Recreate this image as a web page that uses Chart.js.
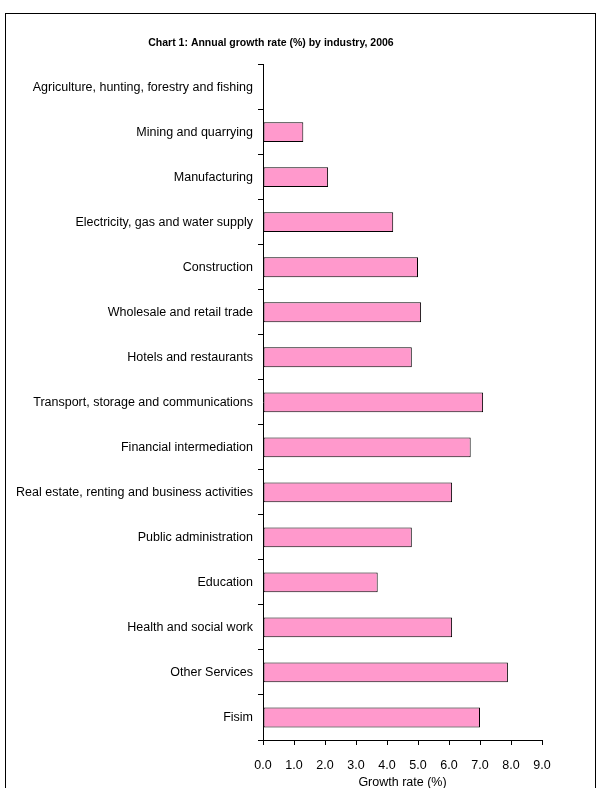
<!DOCTYPE html>
<html>
<head>
<meta charset="utf-8">
<script src="https://cdn.jsdelivr.net/npm/chart.js@4"></script>
<style>
  body { margin: 0; background: #fff; }
  #wrap { position: relative; width: 597px; height: 788px; }
  #frame { position: absolute; left: 5px; top: 13px; width: 589px; height: 800px; border: 1px solid #000; }
  canvas { position: absolute; left: 0; top: 0; }
</style>
</head>
<body>
<div id="wrap">
  <div id="frame"></div>
  <canvas id="grafico" width="597" height="788"></canvas>
</div>
<script>
// industrias e taxas de crescimento (%)
const industrias = [
  'Agriculture, hunting, forestry and fishing',
  'Mining and quarrying',
  'Manufacturing',
  'Electricity, gas and water supply',
  'Construction',
  'Wholesale and retail trade',
  'Hotels and restaurants',
  'Transport, storage and communications',
  'Financial intermediation',
  'Real estate, renting and business activities',
  'Public administration',
  'Education',
  'Health and social work',
  'Other Services',
  'Fisim'
];
const taxas = [0, 1.3, 2.1, 4.2, 5.0, 5.1, 4.8, 7.1, 6.7, 6.1, 4.8, 3.7, 6.1, 7.9, 7.0];
const escalaMin = 0;
const escalaMax = 9;

const fonte = "'Liberation Sans', Arial, sans-serif";

const ctx = document.getElementById('grafico').getContext('2d');
new Chart(ctx, {
  type: 'bar',
  data: {
    labels: industrias,
    datasets: [{
      data: taxas,
      backgroundColor: '#ff99cc',
      borderColor: '#000',
      borderWidth: 1,
      borderSkipped: false,
      barPercentage: 0.44,
      categoryPercentage: 1
    }]
  },
  options: {
    indexAxis: 'y',
    responsive: false,
    animation: false,
    layout: { padding: { left: 0, right: 55, top: 0, bottom: 0 } },
    plugins: {
      legend: { display: false },
      tooltip: { enabled: false },
      title: {
        display: true,
        text: 'Chart 1: Annual growth rate (%) by industry, 2006',
        color: '#000',
        font: { family: fonte, size: 10.5, weight: 'bold' },
        padding: { top: 37, bottom: 15 }
      }
    },
    scales: {
      x: {
        min: escalaMin,
        max: escalaMax,
        ticks: {
          stepSize: 1,
          color: '#000',
          padding: 13,
          font: { family: fonte, size: 12.5 },
          callback: v => v.toFixed(1)
        },
        grid: { display: true, drawOnChartArea: false, drawTicks: true, tickLength: 5, color: '#000' },
        border: { display: true, color: '#000' },
        title: {
          display: true,
          text: 'Growth rate (%)',
          color: '#000',
          font: { family: fonte, size: 12.5 },
          padding: { top: 0, bottom: -2 }
        },
        afterFit: function (escala) { escala.height = 48; }
      },
      y: {
        ticks: {
          color: '#000',
          padding: 5,
          font: { family: fonte, size: 12.5 }
        },
        grid: { display: true, drawOnChartArea: false, drawTicks: true, tickLength: 5, color: '#000', offset: true },
        border: { display: true, color: '#000' },
        afterFit: function (escala) { escala.width = 263; }
      }
    }
  }
});
</script>
</body>
</html>
